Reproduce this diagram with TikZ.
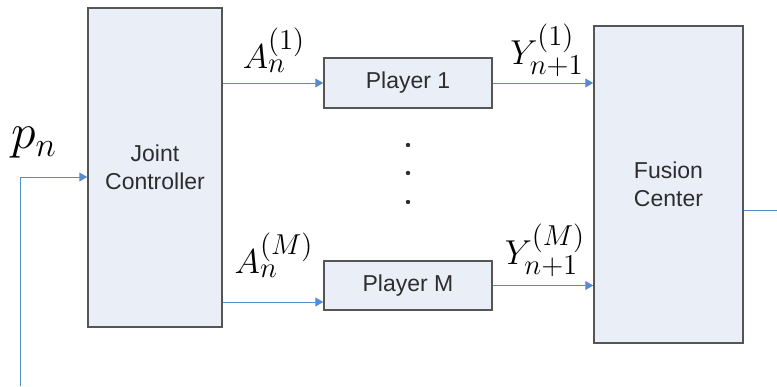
\documentclass[tikz,border=0pt]{standalone}
\usepackage{fontspec}
\setsansfont{Liberation Sans}
\usetikzlibrary{arrows.meta}

\definecolor{boxfill}{RGB}{233,238,247}
\definecolor{boxline}{RGB}{85,85,85}
\definecolor{flowc}{RGB}{84,141,204}
\definecolor{txtc}{RGB}{45,45,45}

\tikzset{
    block/.style={draw=boxline, line width=0.75pt, fill=boxfill, text=txtc,
        font=\sffamily\fontsize{11.5}{14}\selectfont, align=center, inner sep=0pt},
    flow/.style={draw=flowc, line width=0.5pt, -{Triangle[length=4pt,width=4.5pt]}},
    wire/.style={draw=flowc, line width=0.5pt},
    lbl/.style={font=\fontsize{19}{21}\selectfont, inner sep=0pt},
}

\begin{document}
\begin{tikzpicture}[x=0.5pt, y=-0.5pt]

    % Frame (pixel coordinates of the reference)
    \useasboundingbox (0,0) rectangle (777,386);

    % Blocks
    \node[block, minimum width=67pt, minimum height=159.5pt] (jc) at (155,167.5) {Joint\\Controller};
    \node[block, minimum width=84pt, minimum height=25pt] (p1) at (408,83) {Player 1};
    \node[block, minimum width=84pt, minimum height=24.5pt] (pm) at (408,285.5) {Player M};
    \node[block, minimum width=74.5pt, minimum height=158.5pt] (fc) at (668.5,184.5) {Fusion\\Center};

    % Free ends of the wires
    \coordinate (pin) at (20,386);
    \coordinate (pj) at (20,177);
    \coordinate (am) at (222,302);
    \coordinate (out) at (777,210);

    % Input p_n
    \draw[wire] (pin) -- (pj);
    \draw[flow] (pj) -- (jc.west |- pj);
    \node[lbl, font=\fontsize{24.5}{26}\selectfont] (pn) at (34,143) {$p_n$};

    % Controller to players
    \draw[flow] (jc.east |- p1) -- (p1.west);
    \draw[flow] (jc.east |- am) -- (am -| pm.west);
    \node[lbl] (a1) at (274,50) {$A_n^{(1)}$};
    \node[lbl] (aM) at (274,255) {$A_n^{(M)}$};

    % Players to fusion center
    \draw[flow] (p1.east) -- (fc.west |- p1);
    \draw[flow] (pm.east) -- (fc.west |- pm);
    \node[lbl] (y1) at (547,50) {$Y_{n+1}^{(1)}$};
    \node[lbl] (yM) at (545,250) {$Y_{n+1}^{(M)}$};

    % Vertical dots between the players
    \foreach \y in {145,173,202}
        \fill[txtc] (408,\y) circle (1.1pt);

    % Output
    \draw[wire] (fc.east |- out) -- (out);

\end{tikzpicture}
\end{document}
